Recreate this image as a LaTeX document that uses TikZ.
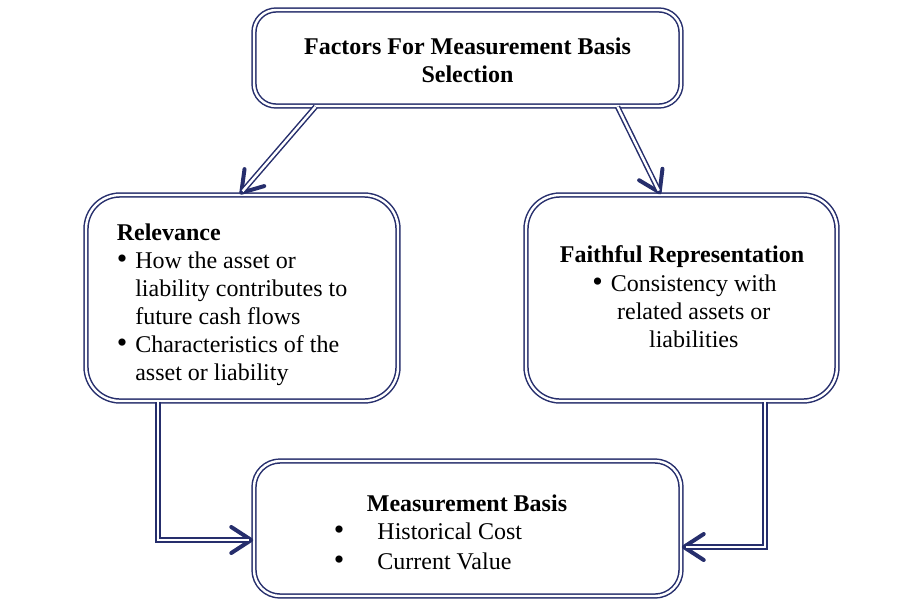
\documentclass[tikz,border=0pt]{standalone}
\usepackage{fontspec}
\setmainfont{Liberation Serif}
\usetikzlibrary{arrows.meta}
\definecolor{boxblue}{RGB}{38,46,108}
\newcommand{\bigbul}{\raisebox{0.3pt}{\fontsize{15}{14}\selectfont\textbullet}}

\begin{document}
\begin{tikzpicture}[x=0.5pt,y=-0.5pt,
  dbox/.style={draw=boxblue, double=white, double distance=1.2pt, line width=0.75pt, rounded corners=#1, inner sep=0pt},
  txt/.style={inner sep=0pt, font=\fontsize{12}{14}\selectfont},
  dline/.style={draw=boxblue, double=white, double distance=1.2pt, line width=0.75pt, shorten >=2pt},
  tipline/.style={draw=boxblue, line width=2pt, -{Straight Barb[round,length=10pt,width=13pt]}}]
\useasboundingbox (0,0) rectangle (910,601);

% boxes
\node[dbox=11pt, minimum width=213.5pt, minimum height=48pt] (top) at (467.5,58) {};
\node[dbox=17pt, minimum width=156pt, minimum height=103pt] (rel) at (242,298) {};
\node[dbox=17pt, minimum width=155.5pt, minimum height=103pt] (faith) at (681.5,298) {};
\node[dbox=13pt, minimum width=213.5pt, minimum height=67.5pt] (meas) at (467.5,528.5) {};

% texts
\node[txt, align=center, font=\fontsize{12}{14}\selectfont\bfseries] (toptxt) at (467.5,60)
  {Factors For Measurement Basis\\Selection};
\node[txt] (reltxt) at (232,305) {\begin{tabular}{@{}l@{\hspace{4pt}}l@{}}
\multicolumn{2}{@{}l@{}}{\textbf{Relevance}}\\
\bigbul & How the asset or\\
 & liability contributes to\\
 & future cash flows\\
\bigbul & Characteristics of the\\
 & asset or liability
\end{tabular}};
\node[txt, font=\fontsize{12}{14}\selectfont\bfseries] (faithtitle) at (682,257) {Faithful Representation};
\node[txt] (faithlist) at (684.5,314) {\begin{tabular}{@{}l@{\hspace{4pt}}c@{}}
\bigbul & Consistency with\\
 & related assets or\\
 & liabilities
\end{tabular}};
\node[txt, font=\fontsize{12}{14}\selectfont\bfseries] (meastitle) at (467,503) {Measurement Basis};
\node[txt] (measlist) at (428,549) {\begin{tabular}{@{}l@{\hspace{16.5pt}}l@{}}
\bigbul & Historical Cost\\[1pt]
\bigbul & Current Value
\end{tabular}};

% connectors
\draw[tipline] ([xshift=-76pt]top.south) -- ([xshift=-1pt]rel.north);
\draw[dline] ([xshift=-76pt]top.south) -- ([xshift=-1pt]rel.north);
\draw[tipline] ([xshift=75pt]top.south) -- ([xshift=-10.5pt]faith.north);
\draw[dline] ([xshift=75pt]top.south) -- ([xshift=-10.5pt]faith.north);
\draw[tipline] ([xshift=-42pt]rel.south) |- ([yshift=-5.75pt]meas.west);
\draw[dline] ([xshift=-42pt]rel.south) |- ([yshift=-5.75pt]meas.west);
\draw[tipline] ([xshift=41.75pt]faith.south) |- ([yshift=-9.25pt]meas.east);
\draw[dline] ([xshift=41.75pt]faith.south) |- ([yshift=-9.25pt]meas.east);
\end{tikzpicture}
\end{document}
